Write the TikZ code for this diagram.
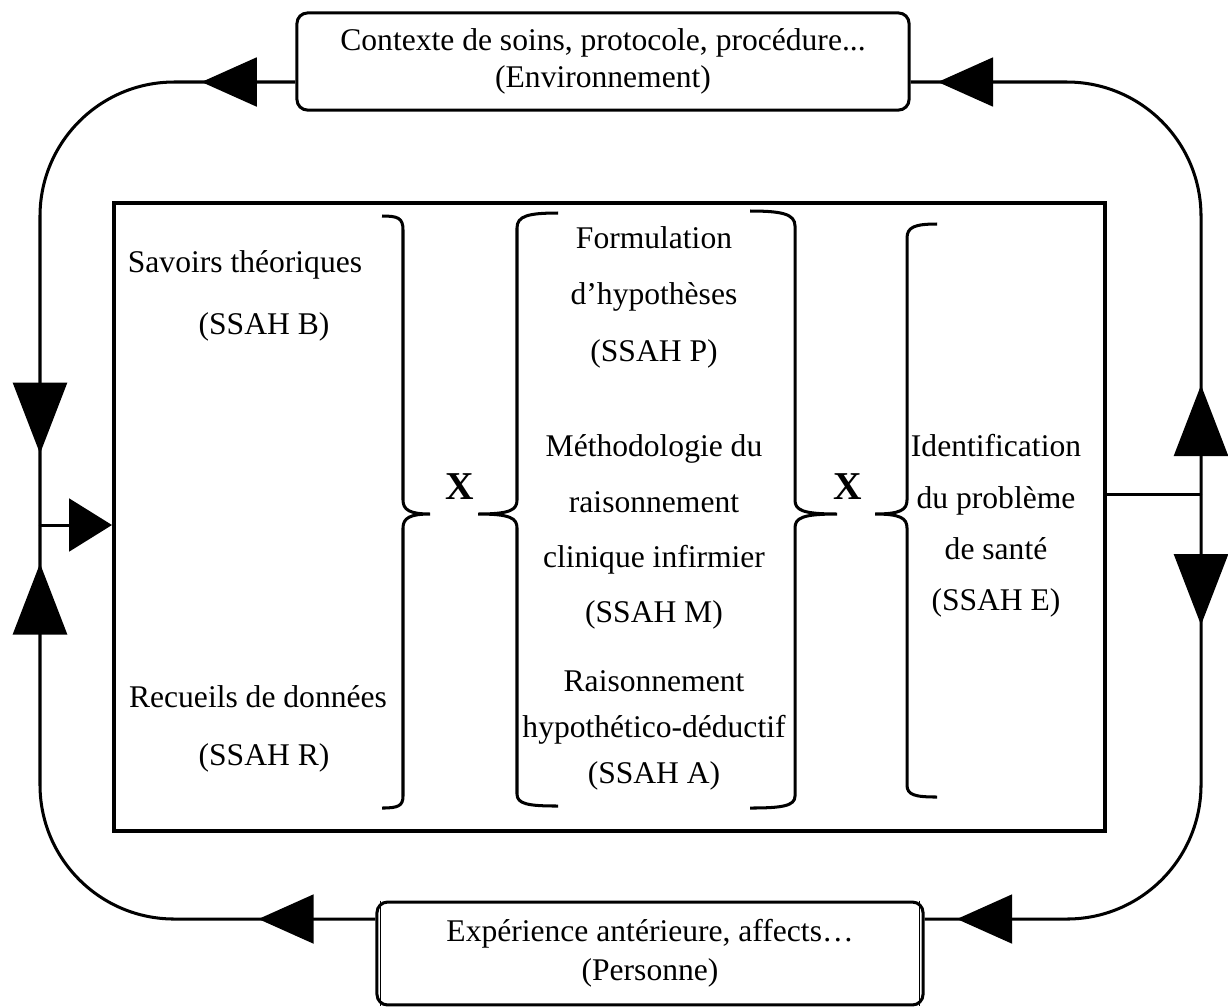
\documentclass[tikz,border=0pt]{standalone}
\usepackage{fontspec}
\setmainfont{Liberation Serif}
\usetikzlibrary{arrows.meta,calc,decorations.markings}

\begin{document}
\begin{tikzpicture}[x=0.38pt,y=-0.38pt,
		trait/.style={line width=1.15pt},
		boite/.style={draw,line width=1.15pt,rounded corners=4pt,inner sep=0pt,align=center},
		cadre/.style={draw,line width=1.5pt,inner sep=0pt},
		texte/.style={inner sep=0pt,font=\fontsize{12}{14}\selectfont},
		bloc/.style={inner sep=0pt,align=center,font=\fontsize{12}{#1}\selectfont},
		croix/.style={inner sep=0pt,font=\fontsize{15}{18}\selectfont\bfseries},
		flecheh/.tip={Triangle[length=21pt,width=18.5pt]},
		flechev/.tip={Triangle[length=27pt,width=20.5pt]},
		pointe/.style 2 args={postaction={decorate,decoration={markings,mark=at position #1 with {\arrow{#2}}}}},
		boucle/.style={trait,rounded corners=51pt}]
		\useasboundingbox (0,0) rectangle (1228,1006);
		
		\node[boite,minimum width=232.6pt,minimum height=36.9pt,font=\fontsize{12}{14}\selectfont] (env) at (603,61.5) {Contexte de soins, protocole, procédure...\\(Environnement)};
		\node[boite,minimum width=207.5pt,minimum height=39.1pt,font=\fontsize{12}{14.8}\selectfont] (pers) at (650,953.5) {Expérience antérieure, affects…\\(Personne)};
		\draw[thin] ([xshift=1.9pt]pers.north west) -- ([xshift=1.9pt]pers.south west);
		\draw[thin] ([xshift=-1.9pt]pers.north east) -- ([xshift=-1.9pt]pers.south east);
		\node[cadre,minimum width=376.6pt,minimum height=238.6pt] (cadre) at (609.5,517) {};
		
		\coordinate (hg) at (40,82);
		\coordinate (bg) at (40,919);
		\coordinate (gm) at (40,525);
		\coordinate (hd) at (1201,82);
		\coordinate (bd) at (1201,919);
		\coordinate (dm) at (1201,494);
		
		\draw[boucle,pointe={35.7pt}{flecheh},pointe={216.4pt}{flechev}] ($(env.west)+(0,20.5)$) -- (hg) -- (gm);
		\draw[boucle,pointe={44.5pt}{flecheh},pointe={240.7pt}{flechev}] ($(pers.west)+(0,-34.5)$) -- (bg) -- (gm);
		\draw[trait,-{Triangle[length=16.3pt,width=20pt]}] (gm) -- (gm -| cadre.west);
		\draw[trait] (dm -| cadre.east) -- (dm);
		\draw[boucle,pointe={41.4pt}{flechev},pointe={234.7pt}{flecheh}] (dm) -- (hd) -- ($(env.east)+(0,20.5)$);
		\draw[boucle,pointe={49.8pt}{flechev},pointe={232.4pt}{flecheh}] (dm) -- (bd) -- ($(pers.east)+(0,-34.5)$);
		
		\draw[trait] (382,216) .. controls (398,216) and (403,218) .. (403,230) -- (403,500) .. controls (403,510) and (410,514) .. (430,514) .. controls (410,514) and (403,518) .. (403,528) -- (403,796) .. controls (403,806) and (398,808) .. (382,808);
		\draw[trait] (558,213) .. controls (528,213) and (517,216) .. (517,228) -- (517,500) .. controls (517,510) and (510,514) .. (478,514) .. controls (510,514) and (517,518) .. (517,528) -- (517,794) .. controls (517,804) and (528,806) .. (558,806);
		\draw[trait] (750,211) .. controls (782,211) and (795,214) .. (795,226) -- (795,500) .. controls (795,510) and (802,514) .. (837,514) .. controls (802,514) and (795,518) .. (795,528) -- (795,796) .. controls (795,806) and (782,808) .. (750,808);
		\draw[trait] (937,224) .. controls (915,224) and (907,227) .. (907,238) -- (907,500) .. controls (907,510) and (900,514) .. (875,514) .. controls (900,514) and (907,518) .. (907,528) -- (907,785) .. controls (907,795) and (915,797) .. (937,797);
		
		\node[croix] (x1) at (460,487) {X};
		\node[croix] (x2) at (848,487) {X};
		
		\node[texte] (savoirs) at (245,265) {Savoirs théoriques};
		\node[texte] (ssahb) at (264,327) {(SSAH B)};
		\node[texte] (recueils) at (258,697) {Recueils de données};
		\node[texte] (ssahr) at (264,758) {(SSAH R)};
		\node[bloc=21.5] (formul) at (654,297) {Formulation\\d’hypothèses\\(SSAH P)};
		\node[bloc=21] (methodo) at (654,532) {Méthodologie du\\raisonnement\\clinique infirmier\\(SSAH M)};
		\node[bloc=17.5] (raison) at (654,730) {Raisonnement\\hypothético-déductif\\(SSAH A)};
		\node[bloc=19.5] (identif) at (996,526) {Identification\\du problème\\de santé\\(SSAH E)};
	
	\end{tikzpicture}
\end{document}
